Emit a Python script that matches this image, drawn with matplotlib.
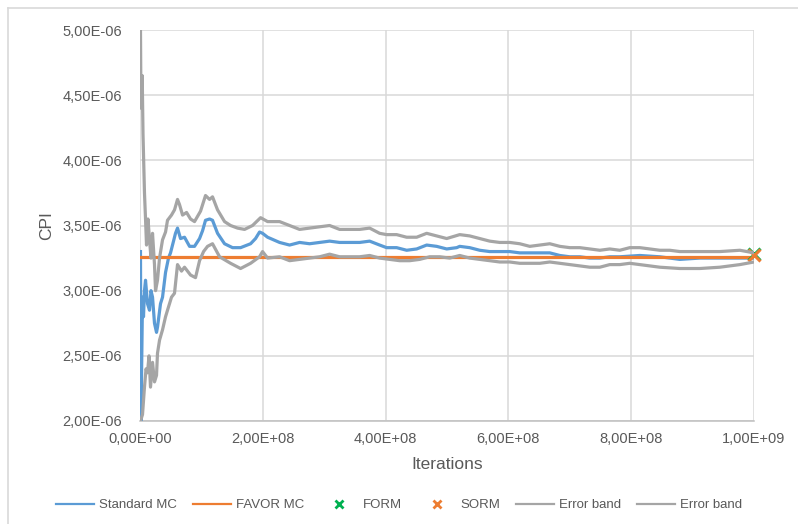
import matplotlib
matplotlib.use("Agg")
import matplotlib.pyplot as plt
from matplotlib.ticker import FuncFormatter, MultipleLocator
from matplotlib.lines import Line2D
import numpy as np

# iterations (millions) and CPI estimates (x1e-6)
mc_it = [0.8, 1.6, 4.1, 5.7, 7.3, 9.0, 12.2, 15.5, 17.9, 20.4, 23.6, 26.9, 28.5,
         33.4, 36.7, 41.6, 46.4, 49.7, 54.6, 57.8, 61.1, 66.0, 72.5, 80.7, 88.8,
         97.0, 101.9, 106.7, 113.3, 118.1, 126.3, 137.7, 150.7, 163.8, 180.1,
         188.2, 194.7, 199.6, 207.8, 227.3, 243.6, 259.9, 276.2, 292.5, 308.8,
         325.1, 341.4, 357.7, 374.0, 390.3, 401.7, 418.0, 434.3, 450.6, 466.9,
         483.2, 499.5, 515.8, 520.7, 537.0, 553.3, 569.6, 585.9, 602.2, 618.5,
         634.8, 651.1, 667.4, 683.7, 700.0, 716.3, 732.6, 748.9, 765.1, 781.4,
         814.0, 846.6, 879.2, 911.8, 944.4, 977.0, 1000.0]
mc_cpi = [3.30, 2.00, 2.95, 2.80, 3.00, 3.08, 2.90, 2.85, 3.00, 2.95, 2.75, 2.68, 2.72,
          2.90, 2.95, 3.14, 3.25, 3.29, 3.38, 3.44, 3.48, 3.40, 3.41, 3.34, 3.34,
          3.40, 3.46, 3.54, 3.55, 3.54, 3.44, 3.36, 3.33, 3.33, 3.36,
          3.40, 3.45, 3.44, 3.41, 3.37, 3.35, 3.37, 3.36, 3.37, 3.38,
          3.37, 3.37, 3.37, 3.38, 3.35, 3.33, 3.33, 3.31, 3.32, 3.35,
          3.34, 3.32, 3.33, 3.34, 3.33, 3.31, 3.30, 3.30, 3.30, 3.29,
          3.29, 3.29, 3.29, 3.27, 3.26, 3.26, 3.25, 3.25, 3.26, 3.26,
          3.27, 3.26, 3.24, 3.25, 3.25, 3.25, 3.25]

up_it = [0.8, 1.6, 3.6, 4.9, 7.3, 9.0, 10.6, 13.0, 15.5, 17.9, 20.4, 23.6, 25.3,
         28.5, 31.8, 36.7, 41.6, 44.8, 51.3, 56.2, 61.1, 64.4, 69.3, 75.8, 82.3,
         88.8, 98.6, 106.7, 113.3, 118.1, 126.3, 137.7, 147.5, 158.9, 170.3,
         183.3, 196.4, 207.8, 227.3, 243.6, 259.9, 276.2, 292.5, 308.8, 325.1,
         341.4, 357.7, 374.0, 390.3, 401.7, 418.0, 434.3, 450.6, 466.9, 483.2,
         499.5, 520.7, 537.0, 553.3, 569.6, 585.9, 602.2, 618.5, 634.8, 651.1,
         667.4, 683.7, 700.0, 716.3, 732.6, 748.9, 765.1, 781.4, 797.7, 814.0,
         830.3, 846.6, 862.9, 879.2, 911.8, 944.4, 977.0, 1000.0]
up_cpi = [5.00, 4.40, 4.65, 4.20, 3.75, 3.55, 3.35, 3.55, 3.39, 3.25, 3.44, 3.20, 3.00,
          3.08, 3.25, 3.39, 3.45, 3.54, 3.58, 3.62, 3.70, 3.66, 3.58, 3.60, 3.55,
          3.53, 3.61, 3.73, 3.70, 3.72, 3.62, 3.53, 3.50, 3.48, 3.47,
          3.50, 3.56, 3.53, 3.53, 3.50, 3.47, 3.48, 3.49, 3.50, 3.47,
          3.47, 3.47, 3.48, 3.44, 3.43, 3.43, 3.41, 3.41, 3.44, 3.42,
          3.40, 3.43, 3.42, 3.40, 3.38, 3.37, 3.37, 3.36, 3.34, 3.35,
          3.36, 3.34, 3.33, 3.33, 3.32, 3.31, 3.32, 3.31, 3.33, 3.33,
          3.32, 3.31, 3.31, 3.30, 3.30, 3.30, 3.31, 3.29]

lo_it = [0.8, 4.1, 7.3, 9.8, 12.2, 14.7, 17.1, 20.4, 23.6, 26.9, 28.5, 31.8, 36.7,
         41.6, 44.8, 51.3, 56.2, 61.1, 67.6, 72.5, 82.3, 90.4, 97.0, 103.5, 110.0,
         118.1, 129.6, 147.5, 163.8, 180.1, 194.7, 199.6, 207.8, 227.3, 243.6,
         259.9, 276.2, 292.5, 308.8, 325.1, 357.7, 374.0, 390.3, 406.6, 422.9,
         439.2, 455.5, 471.8, 488.1, 504.4, 520.7, 537.0, 553.3, 569.6, 585.9,
         602.2, 618.5, 634.8, 651.1, 667.4, 683.7, 700.0, 716.3, 732.6, 748.9,
         765.1, 781.4, 797.7, 814.0, 830.3, 846.6, 879.2, 911.8, 944.4, 977.0, 1000.0]
lo_cpi = [2.00, 2.05, 2.26, 2.40, 2.37, 2.50, 2.26, 2.45, 2.30, 2.35, 2.52, 2.62, 2.70,
          2.80, 2.85, 2.95, 2.98, 3.20, 3.15, 3.18, 3.12, 3.10, 3.23, 3.30, 3.34,
          3.36, 3.26, 3.21, 3.17, 3.21, 3.26, 3.30, 3.25, 3.26, 3.23,
          3.24, 3.25, 3.26, 3.28, 3.26, 3.26, 3.27, 3.25, 3.24, 3.23,
          3.23, 3.24, 3.26, 3.26, 3.25, 3.27, 3.25, 3.24, 3.23, 3.22,
          3.22, 3.21, 3.21, 3.21, 3.22, 3.21, 3.20, 3.19, 3.18, 3.18,
          3.20, 3.20, 3.21, 3.20, 3.19, 3.18, 3.17, 3.17, 3.18, 3.20, 3.22]

favor_it = [0.0, 1000.0]
favor_cpi = [3.26, 3.26]
form_it, form_cpi = [1000.0], [3.285]
sorm_it, sorm_cpi = [1000.0], [3.27]

plt.rcParams['font.family'] = ['Liberation Sans', 'DejaVu Sans']
txt = '#595959'

fig = plt.figure(figsize=(7.98, 5.24), dpi=100)
ax = fig.add_axes([140 / 798, 1 - 421 / 524, 614 / 798, 391 / 524])

def scale(xs, k):
    return np.asarray(xs) * k

ax.plot(scale(mc_it, 1e6), scale(mc_cpi, 1e-6), color='#5b9bd5', lw=2.3, label='Standard MC', zorder=3)
ax.plot(scale(favor_it, 1e6), scale(favor_cpi, 1e-6), color='#ed7d31', lw=2.3, label='FAVOR MC', zorder=4)
ax.plot(scale(form_it, 1e6), scale(form_cpi, 1e-6), ls='none', marker='x', ms=8, mew=2.2,
        color='#00b050', label='FORM', zorder=5, clip_on=False)
ax.plot(scale(sorm_it, 1e6), scale(sorm_cpi, 1e-6), ls='none', marker='x', ms=8, mew=2.2,
        color='#ed7d31', label='SORM', zorder=6, clip_on=False)
ax.plot(scale(up_it, 1e6), scale(up_cpi, 1e-6), color='#a5a5a5', lw=2.3, label='Error band', zorder=7)
ax.plot(scale(lo_it, 1e6), scale(lo_cpi, 1e-6), color='#a5a5a5', lw=2.3, label='Error band', zorder=7)

ax.set_xlim(0, 1e9)
ax.set_ylim(2e-6, 5e-6)
ax.xaxis.set_major_locator(MultipleLocator(2e8))
ax.yaxis.set_major_locator(MultipleLocator(5e-7))
sci = FuncFormatter(lambda v, p: f"{v:.2E}".replace('.', ','))
ax.xaxis.set_major_formatter(sci)
ax.yaxis.set_major_formatter(sci)

ax.grid(True, color='#d9d9d9', lw=1.1, zorder=0)
ax.set_axisbelow(True)
for s in ['top', 'right', 'left']:
    ax.spines[s].set_visible(False)
ax.spines['bottom'].set_color('#bfbfbf')
ax.spines['bottom'].set_linewidth(1.1)
ax.tick_params(length=0, labelsize=10.5, labelcolor=txt, pad=8)
ax.tick_params(axis='y', pad=13)

ax.set_xlabel('Iterations', fontsize=12.5, color=txt, labelpad=8)
ax.set_ylabel('CPI', fontsize=12.5, color=txt, labelpad=6)

handles = [Line2D([], [], color='#5b9bd5', lw=1.6),
           Line2D([], [], color='#ed7d31', lw=1.6),
           Line2D([], [], ls='none', marker='x', ms=6, mew=2, color='#00b050'),
           Line2D([], [], ls='none', marker='x', ms=6, mew=2, color='#ed7d31'),
           Line2D([], [], color='#a5a5a5', lw=1.6),
           Line2D([], [], color='#a5a5a5', lw=1.6)]
labels = ['Standard MC', 'FAVOR MC', 'FORM', 'SORM', 'Error band', 'Error band']
leg = fig.legend(handles, labels, loc='center', bbox_to_anchor=(0.5, 1 - 505 / 524), ncol=6,
                 frameon=False, fontsize=9.5, handlelength=2.9, handletextpad=0.35,
                 columnspacing=1.2, labelcolor=txt)

# chart frame
fig.add_artist(Line2D([8 / 798, 8 / 798], [0, 1 - 8 / 524], color='#d9d9d9', lw=1.2))
fig.add_artist(Line2D([8 / 798, 1], [1 - 8 / 524, 1 - 8 / 524], color='#d9d9d9', lw=1.2))

fig.savefig('out.png', dpi=100)
